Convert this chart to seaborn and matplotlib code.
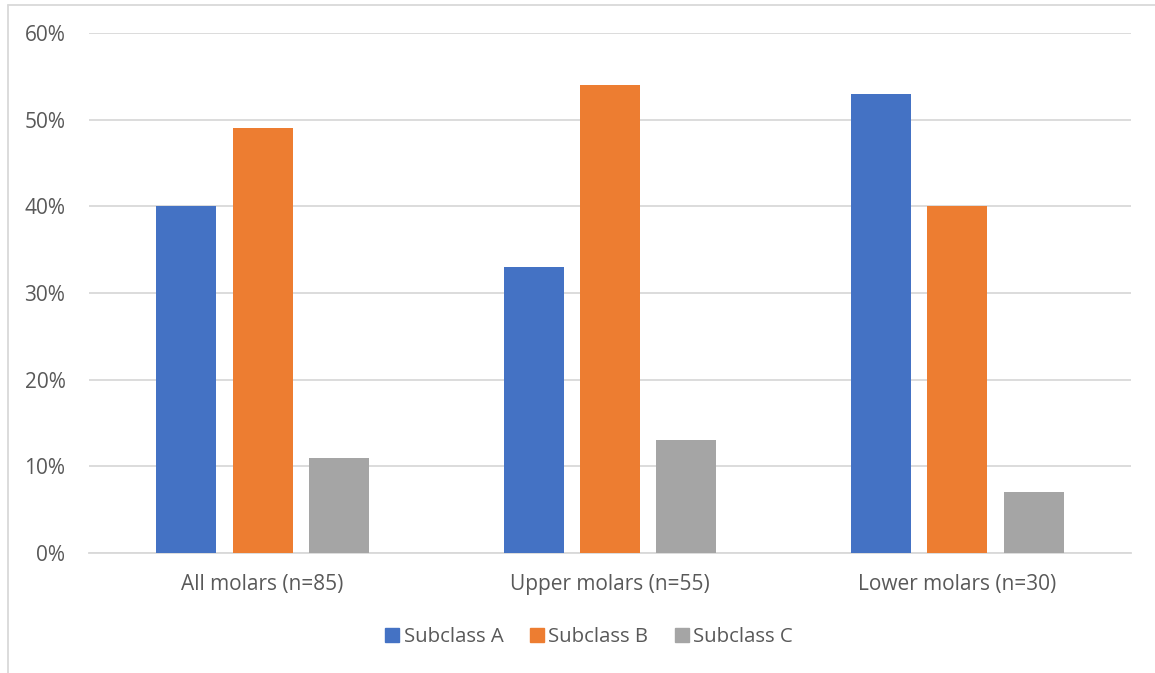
import matplotlib
matplotlib.use("Agg")
import matplotlib.pyplot as plt
import matplotlib.lines as mlines
from matplotlib.ticker import FuncFormatter
import seaborn as sns
import pandas as pd

categories = ["All molars (n=85)", "Upper molars (n=55)", "Lower molars (n=30)"]
subclasses = ["Subclass A", "Subclass B", "Subclass C"]
subclass_a = [40, 33, 53]
subclass_b = [49, 54, 40]
subclass_c = [11, 13, 7]
y_ticks = [0, 10, 20, 30, 40, 50, 60]

colors = ["#4472C4", "#ED7D31", "#A5A5A5"]
text_color = "#595959"
grid_color = "#D9D9D9"

rows = []
for name, vals in zip(subclasses, [subclass_a, subclass_b, subclass_c]):
    for cat, v in zip(categories, vals):
        rows.append({"group": cat, "subclass": name, "pct": v})
df = pd.DataFrame(rows)

sns.set_theme(style="white")
plt.rcParams["font.family"] = ["Open Sans", "DejaVu Sans"]

fig = plt.figure(figsize=(11.55, 6.73), dpi=100)
ax = fig.add_axes([89 / 1155, 1 - 553 / 673, (1131 - 89) / 1155, (553 - 33) / 673])

sns.barplot(data=df, x="group", y="pct", hue="subclass", order=categories,
            hue_order=subclasses, palette=colors, width=0.66, gap=0.215,
            saturation=1, errorbar=None, linewidth=0, ax=ax, zorder=3)

ax.set_ylim(0, 60)
ax.set_xlim(-0.5, 2.5)
ax.set_yticks(y_ticks)
ax.yaxis.set_major_formatter(FuncFormatter(lambda v, _: f"{v:.0f}%"))
ax.grid(axis="y", color=grid_color, linewidth=1.3, zorder=0)
ax.set_axisbelow(True)
for side in ["top", "right", "left"]:
    ax.spines[side].set_visible(False)
ax.spines["bottom"].set_color(grid_color)
ax.spines["bottom"].set_linewidth(1.3)
ax.set_xlabel("")
ax.set_ylabel("")
ax.tick_params(axis="both", length=0, labelsize=15, labelcolor=text_color)
ax.tick_params(axis="y", pad=17)
ax.tick_params(axis="x", pad=15)

handles = [mlines.Line2D([], [], marker="s", linestyle="none", markersize=10.5,
                         markerfacecolor=c, markeredgecolor=c) for c in colors]
ax.legend(handles, subclasses, loc="center", bbox_to_anchor=(588 / 1155, 1 - 637 / 673),
          bbox_transform=fig.transFigure, ncol=3, frameon=False, fontsize=14.7,
          handletextpad=0.1, columnspacing=1.2, labelcolor=text_color,
          handlelength=0.9)

# chart frame
fig.add_artist(mlines.Line2D([8 / 1155, 8 / 1155], [0, 1 - 5 / 673],
                             transform=fig.transFigure, color="#D9D9D9", linewidth=1.3))
fig.add_artist(mlines.Line2D([8 / 1155, 1], [1 - 5 / 673, 1 - 5 / 673],
                             transform=fig.transFigure, color="#D9D9D9", linewidth=1.3))

fig.savefig("out.png", dpi=100, facecolor="white")
